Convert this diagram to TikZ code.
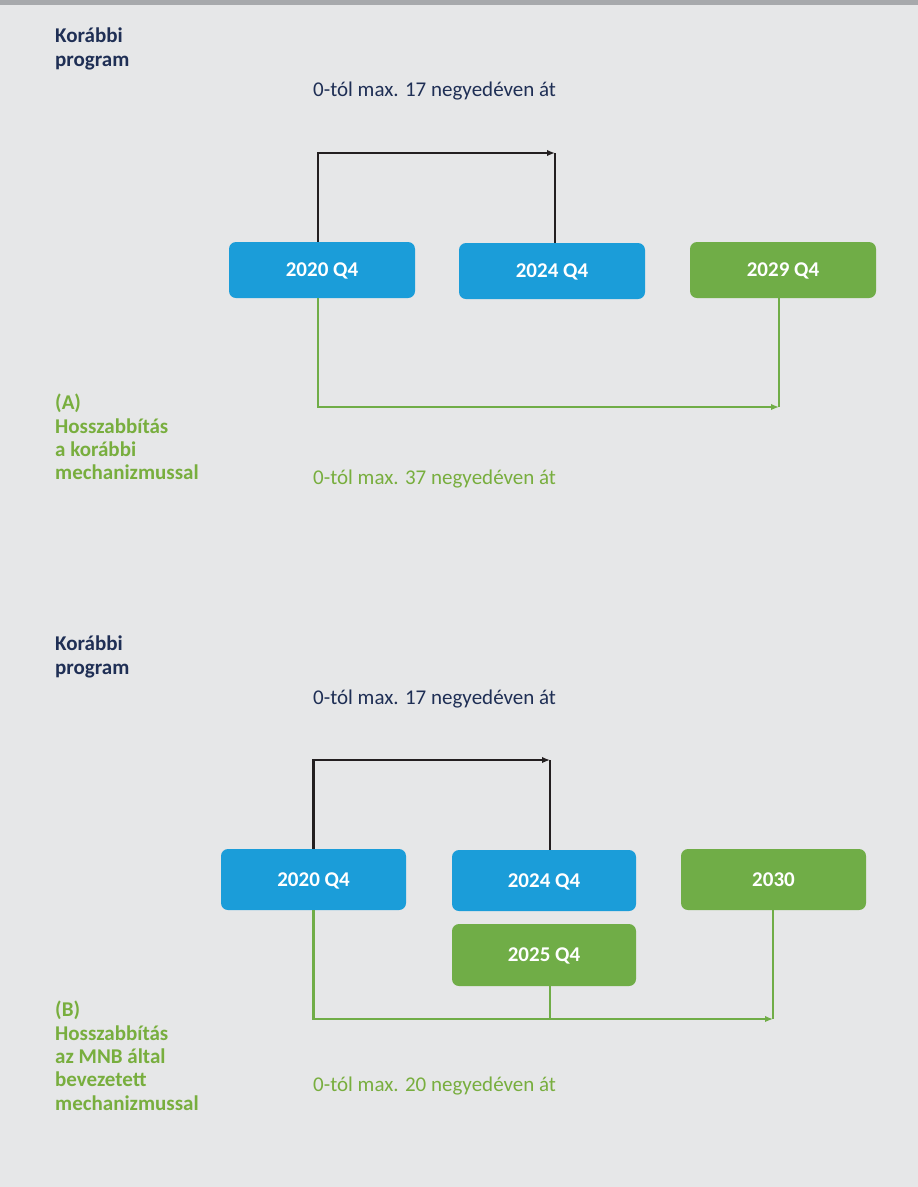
\documentclass[tikz,border=0pt]{standalone}
\usepackage{fontspec}
\setmainfont{Carlito}
\usetikzlibrary{arrows.meta}
\definecolor{bg}{HTML}{E6E7E8}
\definecolor{bar}{HTML}{A7A9AC}
\definecolor{navy}{HTML}{1F2F55}
\definecolor{blu}{HTML}{1B9DD9}
\definecolor{grn}{HTML}{70AD47}
\definecolor{tgrn}{HTML}{78AE3E}
\definecolor{blk}{HTML}{231F20}
\begin{document}
\begin{tikzpicture}[x=1pt,y=-1pt,
  boxb/.style={draw=none,fill=blu,rounded corners=7pt,minimum width=186pt,minimum height=56pt,inner sep=0pt,text=white,text height=13.5pt,text depth=0pt,font=\bfseries\fontsize{21}{24}\selectfont},
  boxg/.style={boxb,fill=grn},
  blkline/.style={draw=blk,line width=2.2pt},
  grnline/.style={draw=grn,line width=2.2pt},
  tip/.style={-{Latex[length=8pt,width=6.5pt]}},
  head/.style={anchor=north west,inner sep=0pt,align=left,text=navy,font=\bfseries\fontsize{21}{23.3}\selectfont},
  ghead/.style={head,text=tgrn},
  span/.style={anchor=base west,inner sep=0pt,font=\fontsize{21}{24}\selectfont},
]
\fill[bg] (0,0) rectangle (918,1187);
\fill[bar] (0,0) rectangle (918,5);
\useasboundingbox (0,0) rectangle (918,1187);

% ---- section A ----
\node[head] (h1) at (55,28) {Korábbi\\program};
\node[span,text=navy] (s1) at (313,96) {0-tól max. 17 negyedéven át};
\node[boxb] (b1) at (322,270) {2020 Q4};
\node[boxb] (b2) at (552,271) {2024 Q4};
\node[boxg] (b3) at (783,270) {2029 Q4};
\coordinate (t1) at (555,153);
\coordinate (g1) at (779,407);
\draw[blkline,tip] ([xshift=-4pt]b1.north) |- (t1);
\draw[blkline] (b2.north -| t1) -- (t1);
\draw[grnline,tip] ([xshift=-4pt]b1.south) |- (g1);
\draw[grnline] (b3.south -| g1) -- (g1);
\node[ghead] (ha) at (55,394) {(A)\\Hosszabbítás\\a korábbi\\mechanizmussal};
\node[span,text=tgrn] (sa) at (313,484) {0-tól max. 37 negyedéven át};

% ---- section B ----
\node[head] (h2) at (55,636) {Korábbi\\program};
\node[span,text=navy] (s2) at (313,704) {0-tól max. 17 negyedéven át};
\node[boxb,minimum width=185pt,minimum height=61pt] (c1) at (313.5,879.5) {2020 Q4};
\node[boxb,minimum width=184pt,minimum height=61pt] (c2) at (544,880.5) {2024 Q4};
\node[boxg,minimum width=185pt,minimum height=61pt] (c3) at (773.5,879.5) {2030};
\node[boxg,minimum width=184pt,minimum height=62pt] (c4) at (544,955) {2025 Q4};
\coordinate (t2) at (550,760);
\coordinate (g2) at (773,1019);
\draw[blkline,tip] (c1.north) |- (t2);
\draw[blkline] (c2.north -| t2) -- (t2);
\draw[grnline,tip] (c1.south) |- (g2);
\draw[grnline] (c3.south -| g2) -- (g2);
\draw[grnline] (c4.south -| t2) -- (t2 |- g2);
\node[ghead] (hb) at (55,1001) {(B)\\Hosszabbítás\\az MNB által\\bevezetett\\mechanizmussal};
\node[span,text=tgrn] (sb) at (313,1091) {0-tól max. 20 negyedéven át};
\end{tikzpicture}
\end{document}
